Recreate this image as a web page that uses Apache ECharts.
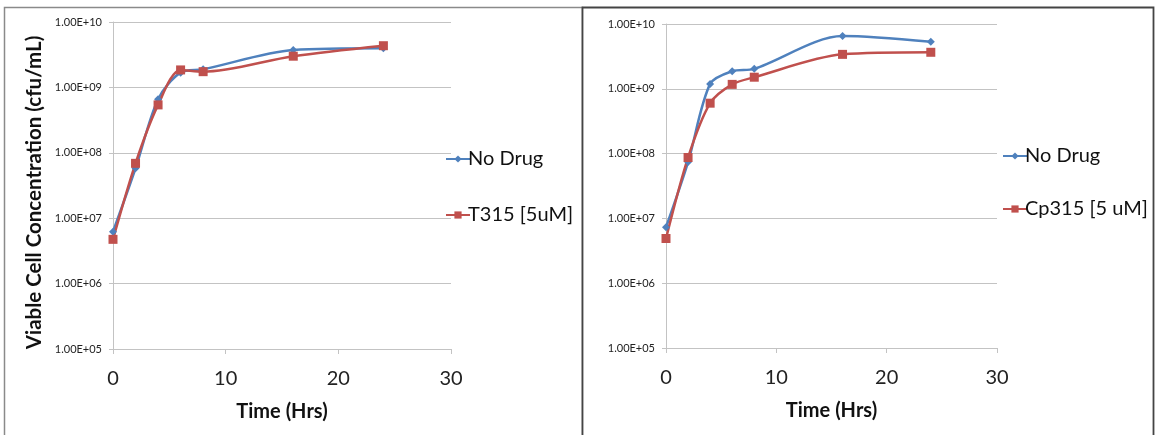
<!DOCTYPE html>
<html>
<head>
<meta charset="utf-8">
<script src="https://cdn.jsdelivr.net/npm/echarts@6/dist/echarts.min.js"></script>
<style>
html,body{margin:0;padding:0;background:#fff;}
#chart{width:1156px;height:435px;}
</style>
</head>
<body>
<div id="chart"></div>
<script>
// ---- data ----
const hours = [0, 2, 4, 6, 8, 16, 24];
const leftNoDrug = [6.2e6, 5.8e7, 6.6e8, 1.68e9, 1.89e9, 3.73e9, 3.97e9];
const leftT315 = [4.75e6, 6.9e7, 5.4e8, 1.85e9, 1.74e9, 3.0e9, 4.34e9];
const rightNoDrug = [7.3e6, 7.4e7, 1.19e9, 1.87e9, 2.03e9, 6.5e9, 5.3e9];
const rightCp315 = [4.9e6, 8.7e7, 6.0e8, 1.17e9, 1.51e9, 3.4e9, 3.66e9];
const seriesNames = ['No Drug', 'T315 [5uM]', 'Cp315 [5 uM]'];
const yTickValues = [1e5, 1e6, 1e7, 1e8, 1e9, 1e10];
const xTickValues = [0, 10, 20, 30];
const yTitle = 'Viable Cell Concentration (cfu/mL)';
const xTitle = 'Time (Hrs)';

function pairs(xs, ys) { return xs.map((x, i) => [x, ys[i]]); }
function sci(v) {
  const e = Math.floor(Math.log10(v) + 1e-9);
  const m = v / Math.pow(10, e);
  const es = (e < 0 ? '-' : '+') + String(Math.abs(e)).padStart(2, '0');
  return m.toFixed(2) + 'E' + es;
}

const FONT = 'Lato';
const BLUE = '#4F81BD';
const RED = '#C0504D';
const GRID = '#c3c3c3';

function xAxis(gridIndex) {
  return {
    type: 'value', gridIndex, min: 0, max: 30, interval: 10,
    name: xTitle, nameLocation: 'middle', nameGap: 53,
    nameTextStyle: { fontFamily: FONT, fontSize: 20, fontWeight: 'bold', color: '#111' },
    axisLine: { show: true, lineStyle: { color: GRID, width: 1 } },
    axisTick: { show: true, length: 5, lineStyle: { color: GRID } },
    axisLabel: { fontFamily: FONT, fontSize: 20, color: '#222', margin: 20,
      formatter: v => xTickValues.includes(v) ? String(v) : '' },
    splitLine: { show: false }
  };
}
function yAxis(gridIndex, withName) {
  return {
    type: 'log', logBase: 10, gridIndex, min: yTickValues[0], max: yTickValues[yTickValues.length - 1],
    name: withName ? yTitle : '', nameLocation: 'middle', nameGap: 68, nameRotate: 90,
    nameTextStyle: { fontFamily: FONT, fontSize: 20.5, fontWeight: 'bold', color: '#111', padding: [0, 14, 0, 0] },
    axisLine: { show: true, lineStyle: { color: GRID, width: 1 } },
    axisTick: { show: true, length: 4, lineStyle: { color: GRID } },
    axisLabel: { fontFamily: FONT, fontSize: 11, color: '#222', margin: 11, formatter: v => sci(v) },
    splitLine: { show: true, lineStyle: { color: GRID, width: 1 } },
    minorTick: { show: false }
  };
}
function lineSeries(name, data, color, symbol, size, idx) {
  return {
    type: 'line', name, data, xAxisIndex: idx, yAxisIndex: idx,
    smooth: 0.3, symbol, symbolSize: size, showSymbol: true,
    lineStyle: { color, width: 2.5 },
    itemStyle: { color },
    emphasis: { disabled: true }, animation: false
  };
}

const chart = echarts.init(document.getElementById('chart'), null, { renderer: 'canvas' });
chart.setOption({
  backgroundColor: '#fff',
  animation: false,
  graphic: [
    { type: 'rect', shape: { x: 4.5, y: 7.5, width: 578, height: 440 }, style: { fill: 'none', stroke: '#8a8a8a', lineWidth: 1.5 }, z: -1 },
    { type: 'rect', shape: { x: 582.5, y: 7.5, width: 571, height: 440 }, style: { fill: '#fff', stroke: '#444', lineWidth: 1.8 }, z: -1 }
  ],
  grid: [
    { left: 113, top: 22, width: 338, height: 327, containLabel: false },
    { left: 666, top: 24, width: 331, height: 324, containLabel: false }
  ],
  xAxis: [xAxis(0), xAxis(1)],
  yAxis: [yAxis(0, true), yAxis(1, false)],
  legend: [
    { orient: 'vertical', left: 440, top: 144, itemWidth: 24, itemHeight: 9, itemGap: 36,
      data: [seriesNames[0], seriesNames[1]], selectedMode: false,
      textStyle: { fontFamily: FONT, fontSize: 20, color: '#111', padding: [0, 0, 0, -7] } },
    { orient: 'vertical', left: 997, top: 141, itemWidth: 24, itemHeight: 9, itemGap: 33,
      data: [seriesNames[0], seriesNames[2]], selectedMode: false,
      textStyle: { fontFamily: FONT, fontSize: 20, color: '#111', padding: [0, 0, 0, -7] } }
  ],
  series: [
    lineSeries(seriesNames[0], pairs(hours, leftNoDrug), BLUE, 'diamond', 8, 0),
    lineSeries(seriesNames[1], pairs(hours, leftT315), RED, 'rect', 9, 0),
    lineSeries(seriesNames[0], pairs(hours, rightNoDrug), BLUE, 'diamond', 8, 1),
    lineSeries(seriesNames[2], pairs(hours, rightCp315), RED, 'rect', 9, 1)
  ]
});
</script>
</body>
</html>
